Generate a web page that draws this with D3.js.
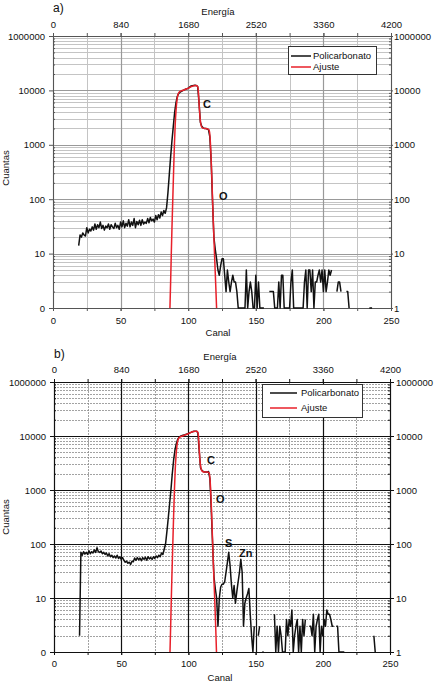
<!DOCTYPE html>
<html><head><meta charset="utf-8">
<script src="https://cdn.jsdelivr.net/npm/d3@7"></script>
<style>
body{margin:0;background:#fff}
svg{display:block}
text{font-family:"Liberation Sans",Arial,Helvetica,sans-serif;fill:#111}
</style>
</head><body>
<svg id="c" width="434" height="684"></svg>
<script>
// ---------- DATA ----------
const canalTicks = [0, 50, 100, 150, 200, 250];
const canalMinorTicks = [0, 25, 50, 75, 100, 125, 150, 175, 200, 225, 250];
const energiaTicks = [0, 840, 1680, 2520, 3360, 4200];
const cuentasTicks = [1, 10, 100, 1000, 10000, 100000];
const cuentasLabelsLeft = ["0", "10", "100", "1000", "10000", "1000000"];
const cuentasLabelsRight = ["1", "10", "100", "1000", "10000", "1000000"];
const serieNames = ["Policarbonato", "Ajuste"];

// Panel a) measured spectrum, one value per channel starting at canalInicioA
const canalInicioA = 19;
const policarbonatoA = [
  14,22,20,24,22,21,30,24,28,26,31,
  27,35,28,34,30,38,29,33,27,32,
  30,35,28,34,31,29,36,30,33,28,
  38,31,40,30,36,32,42,31,38,33,
  44,30,39,34,41,33,42,35,38,36,
  44,37,46,40,43,38,50,42,52,45,
  58,50,62,55,70,130,280,600,1200,2200,
  4000,6000,7800,8800,9300,9600,9900,10200,10500,10700,
  11000,11500,12000,12200,12300,12400,12300,11800,6000,2600,
  2200,2050,2000,2000,1950,1900,1400,500,90,20,
  12,8,5,4,6,8,8,4,2,5,
  3,2,3,4,3,3,2,1,1,1,
  1,1,1,5,1,2,3,2,1,1,
  4,1,3,1,1,1,1,null,null,null,
  2,2,2,2,1,1,1,3,1,4,
  4,1,1,1,1,1,3,5,1,1,
  1,1,1,1,1,1,3,5,1,5,
  5,2,5,1,3,3,4,5,3,5,
  2,5,2,3,5,4,5,null,null,null,
  2,3,3,2,null,null,null,2,2,1,
  null,null,null,null,null,null,null,null,null,null,
  null,null,null,null,1,1,1
];
const ajusteCanalA = [86.5,87,87.5,88,88.6,89.2,89.8,90.4,91,91.7,92.5,93.5,95,97,99,101,103,105,106.5,107.3,107.8,108.3,108.9,109.6,110.5,112,114,115.3,115.9,116.4,116.9,117.4,117.9,118.4,119,119.7,120.4,121];
const ajusteCuentasA = [1,3,10,30,100,330,1000,2400,4300,6600,8500,9400,9800,10200,10700,11300,11900,12300,12200,11000,7500,4500,2900,2250,2050,2000,1980,1900,1650,1100,600,280,120,50,20,7,2.5,1];

// Panel b) measured spectrum
const canalInicioB = 19;
const policarbonatoB = [
  2,70,62,72,65,70,64,75,66,72,68,
  78,70,85,72,70,74,66,70,64,68,
  60,66,58,62,56,60,55,62,54,58,
  52,56,50,46,48,44,46,42,48,47,
  55,50,56,51,55,49,56,52,57,50,
  58,53,56,52,58,54,60,56,62,58,
  68,64,80,100,170,300,550,1000,2000,3600,
  5500,7200,8600,9400,9900,10100,10300,10500,10700,10900,
  11100,11400,11700,12000,12200,12300,12200,11500,5500,2600,
  2300,2200,2150,2150,2150,2200,1600,450,100,25,
  15,10,3,10,16,18,18,20,30,45,
  70,40,18,10,17,8,13,20,30,52,
  30,3,8,10,12,15,5,2,1,3,
  null,null,2,3,null,1,1,null,null,null,
  null,null,null,null,5,1,3,1,3,2,
  1,1,1,4,2,4,3,6,1,2,
  3,4,1,3,1,4,2,4,null,null,
  3,3,2,5,1,3,4,5,1,3,
  2,4,3,6,5,5,4,3,3,null,
  3,3,1,1,1,1,1,null,null,null,
  null,null,null,null,null,null,null,null,null,null,
  null,null,null,null,null,null,null,null,2,1
];
const ajusteCanalB = [86.3,86.8,87.3,87.8,88.4,89,89.6,90.2,90.8,91.5,92.3,93.3,95,97,99,101,103,105,106.5,107.3,107.8,108.3,108.9,109.6,110.5,112,114,115.3,115.9,116.4,116.9,117.4,117.9,118.4,119,119.7,120.3,120.9];
const ajusteCuentasB = [1,3,10,30,100,330,1000,2400,4300,6600,8500,9400,9900,10300,10800,11400,12000,12300,12300,11000,7500,4500,3000,2400,2200,2150,2150,2100,1800,1200,650,300,130,55,22,8,3,1];

const etiquetasA = [["C",108],["O",200]];
const etiquetasB = [["C",464],["O",503],["S",547],["Zn",557]];

// ---------- DRAW ----------
const svg = d3.select("#c");

function drawPanel(cfg) {
  const g = svg.append("g");
  const x = d3.scaleLinear().domain([0, 250]).range([cfg.x0, cfg.x1]);
  const xE = d3.scaleLinear().domain([0, 4200]).range([cfg.x0, cfg.x1]);
  const y = d3.scaleLog().domain([1, 100000]).range([cfg.y1, cfg.y0]);

  // minor horizontal grid
  const minorVals = [];
  for (let d = 0; d < 5; d++) for (let k = 2; k <= 9; k++) minorVals.push(k * Math.pow(10, d));
  g.append("g").selectAll("line").data(minorVals).join("line")
    .attr("x1", cfg.x0).attr("x2", cfg.x1)
    .attr("y1", d => Math.round(y(d)) + 0.5).attr("y2", d => Math.round(y(d)) + 0.5)
    .attr("stroke", cfg.minorColor).attr("stroke-width", cfg.minorWidth)
    .attr("stroke-dasharray", cfg.minorDash);
  // minor vertical grid
  g.append("g").selectAll("line").data(canalMinorTicks.filter(d => d % 50 !== 0)).join("line")
    .attr("x1", d => Math.round(x(d)) + 0.5).attr("x2", d => Math.round(x(d)) + 0.5)
    .attr("y1", cfg.y0).attr("y2", cfg.y1)
    .attr("stroke", cfg.minorColor).attr("stroke-width", cfg.minorWidth)
    .attr("stroke-dasharray", cfg.minorDash);
  // major grid
  g.append("g").selectAll("line").data(cuentasTicks).join("line")
    .attr("x1", cfg.x0).attr("x2", cfg.x1)
    .attr("y1", d => Math.round(y(d)) + 0.5).attr("y2", d => Math.round(y(d)) + 0.5)
    .attr("stroke", cfg.majorColor).attr("stroke-width", cfg.majorWidth);
  g.append("g").selectAll("line").data(canalTicks).join("line")
    .attr("x1", d => Math.round(x(d)) + 0.5).attr("x2", d => Math.round(x(d)) + 0.5)
    .attr("y1", cfg.y0).attr("y2", cfg.y1)
    .attr("stroke", cfg.majorColor).attr("stroke-width", cfg.majorWidth);

  // axes
  const fs = "9.5px";
  const styleAxis = (sel) => {
    sel.select(".domain").attr("stroke", cfg.axisColor);
    sel.selectAll(".tick line").attr("stroke", cfg.axisColor);
    sel.selectAll("text").style("font-size", fs).attr("fill", "#111").style("font-family", '"Liberation Sans",Arial,sans-serif');
  };
  g.append("g").attr("transform", `translate(${cfg.x0},0)`)
    .call(d3.axisLeft(y).tickValues(cuentasTicks).tickFormat((d, i) => cuentasLabelsLeft[i]).tickSize(4).tickPadding(4).tickSizeOuter(0))
    .call(styleAxis);
  g.append("g").attr("transform", `translate(${cfg.x0},0)`)
    .call(d3.axisRight(y).tickValues(minorVals).tickFormat("").tickSize(2).tickSizeOuter(0))
    .call(styleAxis);
  g.append("g").attr("transform", `translate(${cfg.x1},0)`)
    .call(d3.axisRight(y).tickValues(cuentasTicks).tickFormat((d, i) => cuentasLabelsRight[i]).tickSize(cfg.rTick).tickPadding(cfg.rPad).tickSizeOuter(0))
    .call(styleAxis);
  g.append("g").attr("transform", `translate(${cfg.x1},0)`)
    .call(d3.axisLeft(y).tickValues(minorVals).tickFormat("").tickSize(2).tickSizeOuter(0))
    .call(styleAxis);
  g.append("g").attr("transform", `translate(0,${cfg.y1})`)
    .call(d3.axisBottom(x).tickValues(canalMinorTicks).tickFormat("").tickSize(3).tickSizeOuter(0))
    .call(styleAxis);
  g.append("g").attr("transform", `translate(0,${cfg.y1})`)
    .call(d3.axisBottom(x).tickValues(canalTicks).tickFormat(d3.format("d")).tickSize(3).tickPadding(cfg.bPad).tickSizeOuter(0))
    .call(styleAxis);
  g.append("g").attr("transform", `translate(0,${cfg.y0})`)
    .call(d3.axisTop(xE).tickValues(d3.range(0, 4201, 420)).tickFormat("").tickSize(3).tickSizeOuter(0))
    .call(styleAxis);
  g.append("g").attr("transform", `translate(0,${cfg.y0})`)
    .call(d3.axisTop(xE).tickValues(energiaTicks).tickFormat(d3.format("d")).tickSize(3).tickPadding(cfg.tPad).tickSizeOuter(0))
    .call(styleAxis);

  // data lines
  const clip = "clip" + cfg.id;
  g.append("clipPath").attr("id", clip).append("rect")
    .attr("x", cfg.x0).attr("y", cfg.y0 - 1).attr("width", cfg.x1 - cfg.x0).attr("height", cfg.y1 - cfg.y0 + 2);
  const meas = cfg.meas.map((v, i) => ({ c: cfg.start + i, v }));
  const line = d3.line().defined(d => d.v != null && d.v > 0).x(d => x(d.c)).y(d => y(d.v));
  g.append("path").datum(meas).attr("d", line).attr("clip-path", `url(#${clip})`)
    .attr("fill", "none").attr("stroke", "#111").attr("stroke-width", 1.5).attr("stroke-linejoin", "round");
  const fit = cfg.fitC.map((c, i) => ({ c, v: cfg.fitV[i] }));
  g.append("path").datum(fit).attr("d", d3.line().x(d => x(d.c)).y(d => y(d.v)).curve(d3.curveMonotoneX))
    .attr("clip-path", `url(#${clip})`)
    .attr("fill", "none").attr("stroke", "#e8202a").attr("stroke-width", 1.5);

  // element labels
  cfg.labels.forEach(([t, yy], i) => {
    g.append("text").attr("x", cfg.labelX[i]).attr("y", yy).text(t)
      .style("font-size", "11px").style("font-weight", "bold");
  });

  // titles
  g.append("text").attr("x", cfg.x0).attr("y", cfg.panelY).text(cfg.panel).style("font-size", "12px");
  g.append("text").attr("x", cfg.titleX).attr("y", cfg.energiaY).attr("text-anchor", "middle").text("Energía").style("font-size", fs);
  g.append("text").attr("x", cfg.titleX).attr("y", cfg.canalY).attr("text-anchor", "middle").text("Canal").style("font-size", fs);
  g.append("text").attr("transform", `translate(9,${cfg.cuantasY}) rotate(-90)`).attr("text-anchor", "middle").text("Cuantas").style("font-size", fs);

  // legend
  const L = cfg.legend;
  g.append("rect").attr("x", L.x + 0.5).attr("y", L.y + 0.5).attr("width", L.w).attr("height", L.h)
    .attr("fill", "#fff").attr("stroke", "#333").attr("stroke-width", 1);
  const cols = ["#111", "#e8202a"];
  serieNames.forEach((n, i) => {
    const yy = L.y + L.r0 + i * L.dr;
    g.append("line").attr("x1", L.x + L.l0).attr("x2", L.x + L.l1).attr("y1", yy).attr("y2", yy)
      .attr("stroke", cols[i]).attr("stroke-width", 1.5);
    g.append("text").attr("x", L.x + L.tx).attr("y", yy + 3.3).text(n).style("font-size", fs);
  });
}

drawPanel({
  id: "a", panel: "a)", x0: 53, x1: 391, y0: 36, y1: 308,
  minorColor: "#c4c4c4", minorWidth: 1, minorDash: null,
  majorColor: "#999", majorWidth: 1.2, axisColor: "#555",
  rTick: 2, rPad: 1, bPad: 6, tPad: 5,
  start: canalInicioA, meas: policarbonatoA, fitC: ajusteCanalA, fitV: ajusteCuentasA,
  labels: etiquetasA, labelX: [203, 219],
  panelY: 12, titleX: 218, energiaY: 15, canalY: 336, cuantasY: 168,
  legend: { x: 288, y: 46, w: 88, h: 28, r0: 10, dr: 11, l0: 3, l1: 23, tx: 25 }
});

drawPanel({
  id: "b", panel: "b)", x0: 54, x1: 390, y0: 382, y1: 652,
  minorColor: "#8a8a8a", minorWidth: 0.8, minorDash: "2,1",
  majorColor: "#111", majorWidth: 1.2, axisColor: "#111",
  rTick: 4, rPad: 2, bPad: 5, tPad: 6,
  start: canalInicioB, meas: policarbonatoB, fitC: ajusteCanalB, fitV: ajusteCuentasB,
  labels: etiquetasB, labelX: [207, 216, 225, 239],
  panelY: 358, titleX: 220, energiaY: 360, canalY: 681, cuantasY: 517,
  legend: { x: 262, y: 384, w: 100, h: 33, r0: 9, dr: 15, l0: 8, l1: 35, tx: 39 }
});
</script>
</body></html>
